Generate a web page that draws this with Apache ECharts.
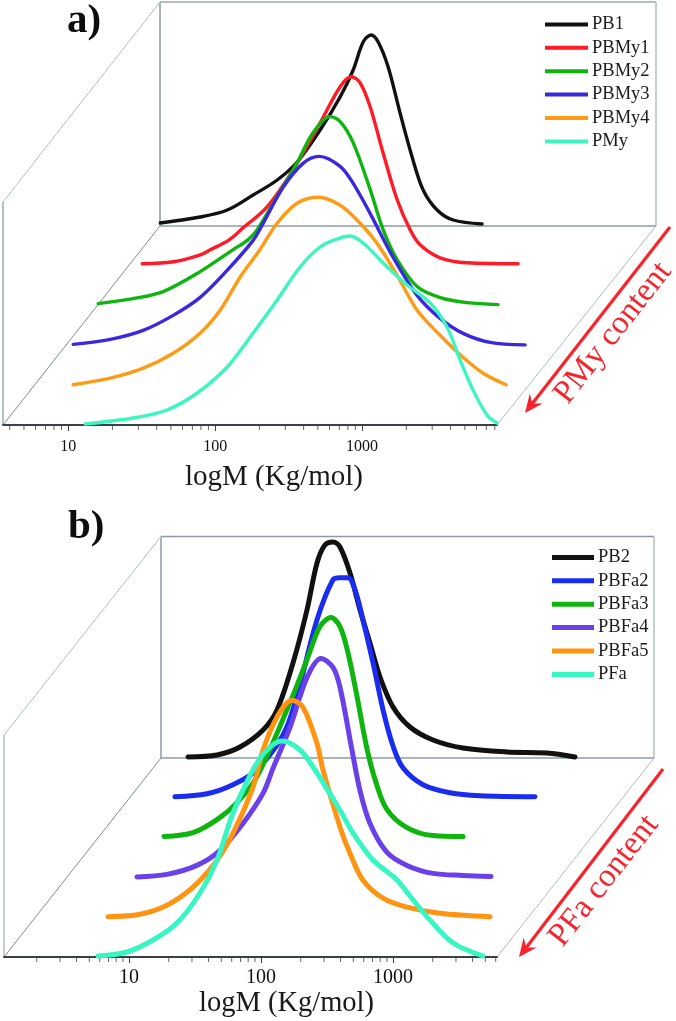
<!DOCTYPE html>
<html>
<head>
<meta charset="utf-8">
<style>html,body{margin:0;padding:0;background:#fff}#c{width:676px;height:1021px}</style>
<script src="https://cdn.jsdelivr.net/npm/echarts@6/dist/echarts.min.js"></script>
</head>
<body>
<div id="c"></div>
<script>
// ---- Panel a: logM values and signal (arbitrary units) of each trace
const pb1LogM = [.558,.830,1.014,1.190,1.354,1.490,1.646,1.782,1.871,1.939,1.993,2.041,2.109,2.190,2.272,2.347,2.442,2.551,2.748];
const pb1Signal = [3,9,16,31,46,64,96,129,156,184,191,184,159,113,69,36,16,6,2];
const pbmy1LogM = [.649,.860,1.044,1.112,1.241,1.336,1.499,1.676,1.860,1.996,2.071,2.132,2.200,2.288,2.384,2.472,2.540,2.676,2.860,3.207];
const pbmy1Signal = [2,4,11,16,26,38,59,96,143,179,189,183,159,113,66,36,21,8,3,2];
const pbmy2LogM = [.563,.801,1.005,1.257,1.482,1.584,1.645,1.781,1.917,2.026,2.141,2.210,2.298,2.414,2.502,2.597,2.733,2.890,3.073,3.284];
const pbmy2Signal = [2,7,14,34,56,66,76,109,143,173,189,184,163,116,76,46,19,8,3,1];
const pbmy3LogM = [.607,.859,1.083,1.287,1.471,1.654,1.831,1.899,2.035,2.171,2.280,2.423,2.512,2.627,2.784,2.947,3.103,3.260,3.444,3.682];
const pbmy3Signal = [1,6,15,30,48,75,105,122,158,182,189,179,162,132,88,50,27,12,3,.5];
const pbmy4LogM = [.820,1.072,1.297,1.501,1.684,1.820,1.956,2.093,2.208,2.344,2.487,2.637,2.773,2.888,3.024,3.161,3.317,3.473,3.610,3.766];
const pbmy4Signal = [.5,7,17,32,52,75,108,136,162,182,188,180,162,142,110,75,50,28,12,.5];
const pmyLogM = [1.116,1.442,1.673,1.878,2.082,2.259,2.422,2.578,2.714,2.830,2.918,3.007,3.143,3.306,3.463,3.578,3.667,3.755,3.850,3.918];
const pmySignal = [1,7,15,32,58,92,125,158,178,186,189,182,162,140,122,98,65,35,10,2];
// ---- Panel b
const pb2LogM = [.258,.477,.652,.826,.932,1.053,1.159,1.235,1.295,1.356,1.409,1.485,1.561,1.636,1.712,1.811,1.939,2.114,2.341,2.674,2.977,3.189];
const pb2Signal = [1,3,11,28,48,95,148,195,213,216,211,185,148,115,81,51,31,18,10,6,5,1];
const pbfa2LogM = [.397,.639,.836,1.018,1.245,1.473,1.594,1.647,1.708,1.761,1.821,1.897,1.973,2.048,2.124,2.276,2.480,2.708,3.124];
const pbfa2Signal = [1,4,13,28,71,178,218,220,220,208,178,135,88,52,30,13,5,2,1];
const pbfa3LogM = [.552,.771,.953,1.105,1.256,1.506,1.635,1.733,1.817,1.885,1.945,2.014,2.089,2.158,2.241,2.392,2.589,2.817];
const pbfa3Signal = [1,5,18,35,61,135,178,211,220,211,185,141,89,55,28,10,2,1];
const pbfa4LogM = [.585,.812,1.039,1.214,1.388,1.539,1.615,1.744,1.873,1.979,2.070,2.123,2.214,2.274,2.350,2.479,2.630,2.827,3.055,3.267];
const pbfa4Signal = [.5,3,12,27,54,84,109,150,200,219,210,190,127,87,54,25,12,4,2,1];
const pbfa5LogM = [.603,.845,1.050,1.247,1.429,1.550,1.702,1.777,1.883,1.997,2.080,2.186,2.232,2.361,2.436,2.535,2.686,2.868,3.118,3.497];
const pbfa5Signal = [.5,3,12,30,57,84,130,167,200,217,210,174,147,90,64,37,19,10,4,.5];
const pfaLogM = [.765,.985,1.182,1.364,1.538,1.667,1.788,1.939,2.045,2.159,2.295,2.409,2.598,2.697,2.848,3.030,3.152,3.280,3.455,3.682];
const pfaSignal = [1,5,17,34,64,97,144,187,207,216,207,187,147,124,97,77,57,37,14,1];
// ---- Axis values
const minorTicksA = [4,5,6,7,8,9,20,30,40,50,60,70,80,90,200,300,400,500,600,700,800,900,2000,3000,4000,5000,6000,7000,8000];
const minorTicksB = [2,3,4,5,6,7,8,9,20,30,40,50,60,70,80,90,200,300,400,500,600,700,800,900,2000,3000,4000,5000,6000];
const axisName = 'logM (Kg/mol)';

const SERIF = '"Liberation Serif", serif';
const panels = [
  { min:3.6, max:8280, left:3, width:494, front:425, height:224, dx:31.4, dy:39.8, lw:3.4,
    tickFont:16, tickMargin:14, nameGap:38, nameFont:29, namePad:48, minors:minorTicksA,
    legend:{left:545, top:14, itemHeight:4, width:43},
    traces:[
      ['PB1',pb1LogM,pb1Signal,'#111111'],
      ['PBMy1',pbmy1LogM,pbmy1Signal,'#ff1a26'],
      ['PBMy2',pbmy2LogM,pbmy2Signal,'#0fb40f'],
      ['PBMy3',pbmy3LogM,pbmy3Signal,'#3a28e0'],
      ['PBMy4',pbmy4LogM,pbmy4Signal,'#ff9a14'],
      ['PMy',pmyLogM,pmySignal,'#3df5c0']]},
  { min:1.13, max:6137, left:4, width:493, front:957, height:221, dx:31.4, dy:39.8, lw:5,
    tickFont:20, tickMargin:11, nameGap:31, nameFont:28.5, namePad:72, minors:minorTicksB,
    legend:{left:552, top:547, itemHeight:5, width:42},
    traces:[
      ['PB2',pb2LogM,pb2Signal,'#111111'],
      ['PBFa2',pbfa2LogM,pbfa2Signal,'#1a2cf0'],
      ['PBFa3',pbfa3LogM,pbfa3Signal,'#0fb40f'],
      ['PBFa4',pbfa4LogM,pbfa4Signal,'#6a40ea'],
      ['PBFa5',pbfa5LogM,pbfa5Signal,'#ff9412'],
      ['PFa',pfaLogM,pfaSignal,'#38f5c4']]}
];

const grid=[], xAxis=[], yAxis=[], series=[], legend=[];
panels.forEach(p=>{
  p.traces.forEach((t,i)=>{
    const back = p.traces.length-1-i;
    const g = grid.length;
    const isFront = back===0;
    grid.push({left:p.left+back*p.dx, width:p.width, top:p.front-back*p.dy-p.height, height:p.height, outerBoundsMode:'none'});
    xAxis.push({gridIndex:g, type:'log', logBase:10, min:p.min, max:p.max, show:isFront,
      splitLine:{show:false}, minorSplitLine:{show:false},
      axisLine:{show:true, onZero:false, lineStyle:{color:'#3a4044', width:2}},
      axisTick:{show:true, length:6, inside:false, lineStyle:{color:'#3a4044', width:1}},
      axisLabel:{show:true, showMinLabel:false, showMaxLabel:false, fontFamily:SERIF, fontSize:p.tickFont, color:'#111', margin:p.tickMargin,
        formatter:v=>String(Math.round(v))},
      name:isFront?axisName:'', nameLocation:'middle', nameGap:p.nameGap,
      nameTextStyle:{fontFamily:SERIF, fontSize:p.nameFont, color:'#1a1a1a', padding:[0,0,0,p.namePad]}});
    yAxis.push({gridIndex:g, type:'value', min:0, max:p.height, show:false, splitLine:{show:false}});
    series.push({name:t[0], type:'line', xAxisIndex:g, yAxisIndex:g,
      data:t[1].map((u,k)=>[Math.pow(10,u),t[2][k]]),
      smooth:0.33, showSymbol:false, symbol:'none', clip:false, silent:true,
      color:t[3], lineStyle:{color:t[3], width:p.lw, cap:'round', join:'round'}, z:3+i});
    if(isFront){
      series.push({type:'scatter', xAxisIndex:g, yAxisIndex:g, silent:true, clip:false, z:2,
        data:p.minors.map(v=>[v,0]), symbol:'rect', symbolSize:[1,4], symbolOffset:[0,3],
        itemStyle:{color:'#3a4044'}});
    }
  });
  legend.push({orient:'vertical', left:p.legend.left, top:p.legend.top, padding:0, itemGap:2.6,
    itemWidth:p.legend.width, itemHeight:p.legend.itemHeight, icon:'rect', selectedMode:false,
    data:p.traces.map(t=>t[0]),
    textStyle:{fontFamily:SERIF, fontSize:18.5, color:'#1a1a1a', lineHeight:20.8, padding:[0,0,0,-1]}});
});

const line=(x1,y1,x2,y2,color,w)=>({type:'line', silent:true, shape:{x1,y1,x2,y2}, style:{stroke:color, lineWidth:w}});
const wallGrey='#8d9ba0', wallLight='#b4bfc2', diagDark='#7f8c90';
const arrow=(x1,y1,x2,y2)=>{
  const a=Math.atan2(y2-y1,x2-x1), L=20, W=0.42, c='#f8242c';
  const w1=[x2-L*Math.cos(a-W),y2-L*Math.sin(a-W)], w2=[x2-L*Math.cos(a+W),y2-L*Math.sin(a+W)];
  const n=[x2-12*Math.cos(a),y2-12*Math.sin(a)];
  return [line(x1,y1,n[0],n[1],c,3.2),
    {type:'polygon',silent:true,shape:{points:[[x2,y2],w1,n,w2]},style:{fill:c}}];
};
const rotText=(t,x,y,size)=>({type:'text',silent:true,x,y,rotation:52*Math.PI/180,
  style:{text:t,fill:'#f8242c',font:size+'px '+SERIF,align:'center',verticalAlign:'middle'}});
const label=(t,x,y)=>({type:'text',silent:true,x,y,
  style:{text:t,fill:'#0d0d0d',font:'bold 41px '+SERIF,align:'left',verticalAlign:'middle'}});

const graphic=[
  // panel a frame
  line(160,2,656,2,wallLight,2), line(656,2,656,226,wallLight,1.5), line(160,2,160,226,wallGrey,1.5),
  line(160,226,656,226,wallGrey,1.5), line(3,202,160,2,wallLight,1), line(3,202,3,425,wallLight,2),
  line(3,425,160,226,diagDark,1), line(497,425,656,226,wallLight,1),
  // panel b frame
  line(161,536.5,654,536.5,wallGrey,1.5), line(654,536.5,654,758,wallLight,1.5), line(161,536.5,161,758,wallGrey,1.5),
  line(161,758,654,758,wallGrey,1.5), line(4,735,161,536.5,wallLight,1), line(4,735,4,957,wallLight,1.5),
  line(4,957,161,758,diagDark,1), line(497,957,654,758,wallLight,1),
  ...arrow(670,227,525,413), ...arrow(663,769,519,957),
  rotText('PMy content',613,333,33), rotText('PFa content',604,881,33),
  label('a)',67,21), label('b)',68,527)
];

const chart=echarts.init(document.getElementById('c'),null,{renderer:'canvas',width:676,height:1021});
chart.setOption({animation:false, backgroundColor:'#fff', grid, xAxis, yAxis, series, legend,
  graphic:{elements:graphic}, tooltip:{show:false}});
</script>
</body>
</html>
